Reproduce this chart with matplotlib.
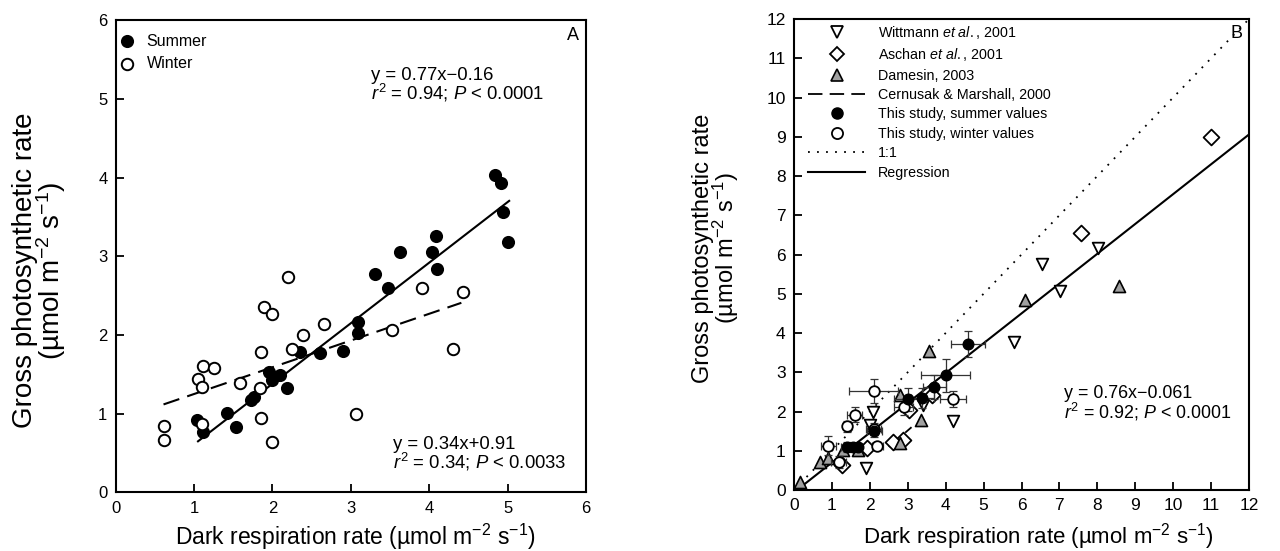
import numpy as np
import matplotlib
matplotlib.use("Agg")
import matplotlib.pyplot as plt
from matplotlib.lines import Line2D

plt.rcParams['font.family'] = ['Liberation Sans', 'DejaVu Sans']
plt.rcParams['mathtext.fontset'] = 'custom'
plt.rcParams['mathtext.rm'] = 'Liberation Sans'
plt.rcParams['mathtext.it'] = 'Liberation Sans:italic'

# PANEL A - datos
summer_x = [4.84, 4.91, 4.94, 5.00, 4.09, 4.04, 4.10, 3.63, 3.31, 3.48, 3.09, 3.09,
            2.35, 2.61, 2.90, 1.95, 2.10, 1.99, 2.18, 1.76, 1.73, 1.42, 1.53, 1.04, 1.12]
summer_y = [4.03, 3.93, 3.57, 3.18, 3.26, 3.06, 2.84, 3.05, 2.77, 2.60, 2.17, 2.02,
            1.79, 1.77, 1.80, 1.53, 1.49, 1.43, 1.32, 1.21, 1.18, 1.01, 0.83, 0.92, 0.77]

winter_x = [0.61, 0.62, 1.05, 1.10, 1.12, 1.26, 1.10, 1.59, 1.84, 1.85, 1.86, 1.89,
            2.00, 1.99, 2.20, 2.25, 2.39, 2.66, 3.07, 3.52, 3.91, 4.30, 4.43]
winter_y = [0.84, 0.67, 1.44, 1.34, 1.60, 1.58, 0.87, 1.39, 1.32, 1.78, 0.94, 2.36,
            2.27, 0.64, 2.74, 1.82, 2.00, 2.14, 0.99, 2.07, 2.60, 1.82, 2.55]

summer_fit = (0.77, -0.16)
summer_range = (1.05, 5.02)
winter_fit = (0.34, 0.91)
winter_range = (0.61, 4.41)

# PANEL B - datos
b_summer_x = [4.60, 4.00, 3.70, 3.38, 3.00, 2.12, 1.40, 1.55, 1.68]
b_summer_y = [3.72, 2.92, 2.62, 2.34, 2.31, 1.50, 1.10, 1.10, 1.10]
b_summer_xerr = [0.45, 0.64, 0.30, 0.30, 0.35, 0.20, 0.15, 0.15, 0.10]
b_summer_yerr = [0.33, 0.42, 0.30, 0.25, 0.30, 0.15, 0.12, 0.10, 0.10]

b_winter_x = [2.10, 1.60, 1.40, 0.90, 1.18, 2.20, 4.19, 2.90, 2.10]
b_winter_y = [2.52, 1.92, 1.62, 1.13, 0.72, 1.12, 2.32, 2.12, 1.55]
b_winter_xerr = [0.65, 0.20, 0.12, 0.20, 0.20, 0.15, 0.35, 0.25, 0.20]
b_winter_yerr = [0.30, 0.20, 0.15, 0.25, 0.15, 0.10, 0.20, 0.20, 0.15]

witt_x = [2.08, 2.00, 1.90, 3.39, 4.20, 5.79, 6.53, 7.02, 8.03]
witt_y = [1.98, 1.66, 0.55, 2.17, 1.77, 3.76, 5.77, 5.08, 6.17]

aschan_x = [11.0, 7.56, 2.88, 2.62, 1.26, 1.92, 3.02, 3.63]
aschan_y = [9.00, 6.56, 1.27, 1.23, 0.64, 1.06, 2.04, 2.42]

dam_x = [8.58, 6.10, 3.55, 3.35, 2.80, 2.80, 1.30, 0.69, 0.90, 0.16, 1.70]
dam_y = [5.20, 4.83, 3.55, 1.78, 2.42, 1.19, 1.02, 0.72, 0.82, 0.21, 1.03]

cernusak_x = [2.50, 3.10]
cernusak_y = [1.10, 1.60]

b_fit = (0.76, -0.061)
b_range = (0.08, 12.0)

# FIGURA
fig = plt.figure(figsize=(12.8, 5.51), dpi=100)
axA = fig.add_axes([0.0904, 0.1065, 0.3674, 0.8565])
axB = fig.add_axes([0.6203, 0.1107, 0.3555, 0.8548])

for ax in (axA, axB):
    for s in ax.spines.values():
        s.set_linewidth(1.5)
    ax.tick_params(direction='in', length=6, width=1.3, labelsize=12, pad=6)

# ---- Panel A
axA.scatter(summer_x, summer_y, s=68, c='black', edgecolors='black', linewidths=1.2,
            zorder=3, label='Summer')
axA.scatter(winter_x, winter_y, s=68, facecolors='white', edgecolors='black', linewidths=1.4,
            zorder=3, label='Winter')

xs = np.array(summer_range)
axA.plot(xs, summer_fit[0] * xs + summer_fit[1], color='black', lw=1.5, zorder=2)
xw = np.array(winter_range)
axA.plot(xw, winter_fit[0] * xw + winter_fit[1], color='black', lw=1.5,
         dashes=(8, 4), zorder=2)

axA.set_xlim(0, 6)
axA.set_ylim(0, 6)
axA.set_xticks(range(7))
axA.set_yticks(range(7))

axA.text(3.26, 5.24, 'y = 0.77x\u22120.16', fontsize=13.3)
axA.text(3.26, 4.99, r'$\mathit{r}^{2}$ = 0.94; $\mathit{P}$ < 0.0001', fontsize=13.3)
axA.text(3.54, 0.55, 'y = 0.34x+0.91', fontsize=13.3)
axA.text(3.54, 0.30, r'$\mathit{r}^{2}$ = 0.34; $\mathit{P}$ < 0.0033', fontsize=13.3)
axA.text(0.985, 0.967, 'A', transform=axA.transAxes, fontsize=13, ha='right', va='center')

axA.legend(loc='upper left', bbox_to_anchor=(0.008, 0.972), frameon=False, fontsize=11.5,
           handlelength=1.0, handletextpad=0.7, borderaxespad=0, borderpad=0,
           labelspacing=0.46, scatterpoints=1)

axA.set_xlabel('Dark respiration rate (µmol m$^{-2}$ s$^{-1}$)', fontsize=16.5)
axA.set_ylabel('Gross photosynthetic rate\n(µmol m$^{-2}$ s$^{-1}$)', fontsize=20,
               linespacing=0.85)
axA.xaxis.set_label_coords(0.509, -0.062)
axA.yaxis.set_label_coords(-0.102, 0.47)

# ---- Panel B
xb = np.array([0, 12])
axB.plot(xb, xb, color='black', lw=1.3, linestyle=(0, (1, 4)), zorder=1)
xr = np.array(b_range)
axB.plot(xr, b_fit[0] * xr + b_fit[1], color='black', lw=1.5, zorder=2)
axB.plot(cernusak_x, cernusak_y, color='black', lw=1.3, dashes=(8, 4), zorder=2)

axB.scatter(witt_x, witt_y, s=70, marker='v', facecolors='white', edgecolors='black',
            linewidths=1.3, zorder=3)
axB.scatter(aschan_x, aschan_y, s=65, marker='D', facecolors='white', edgecolors='black',
            linewidths=1.3, zorder=3)
axB.scatter(dam_x, dam_y, s=75, marker='^', facecolors='#a0a0a0', edgecolors='black',
            linewidths=1.2, zorder=3)

axB.errorbar(b_winter_x, b_winter_y, xerr=b_winter_xerr, yerr=b_winter_yerr, fmt='none',
             ecolor='#333333', elinewidth=0.9, capsize=3, capthick=0.9, zorder=4)
axB.errorbar(b_summer_x, b_summer_y, xerr=b_summer_xerr, yerr=b_summer_yerr, fmt='none',
             ecolor='#333333', elinewidth=0.9, capsize=3, capthick=0.9, zorder=4)
axB.scatter(b_winter_x, b_winter_y, s=58, facecolors='white', edgecolors='black',
            linewidths=1.3, zorder=5)
axB.scatter(b_summer_x, b_summer_y, s=58, c='black', edgecolors='black', zorder=5)

axB.set_xlim(0, 12)
axB.set_ylim(0, 12)
axB.set_xticks(range(13))
axB.set_yticks(range(13))
axB.tick_params(labelsize=12.5)

axB.text(7.11, 2.34, 'y = 0.76x\u22120.061', fontsize=12.9)
axB.text(7.11, 1.83, r'$\mathit{r}^{2}$ = 0.92; $\mathit{P}$ < 0.0001', fontsize=12.9)
axB.text(0.985, 0.97, 'B', transform=axB.transAxes, fontsize=13, ha='right', va='center')

handles = [
    Line2D([], [], linestyle='none', marker='v', markersize=8, mfc='white', mec='black', mew=1.3),
    Line2D([], [], linestyle='none', marker='D', markersize=7, mfc='white', mec='black', mew=1.3),
    Line2D([], [], linestyle='none', marker='^', markersize=8, mfc='#a0a0a0', mec='black', mew=1.2),
    Line2D([], [], color='black', lw=1.3, dashes=(8, 4)),
    Line2D([], [], linestyle='none', marker='o', markersize=8, mfc='black', mec='black'),
    Line2D([], [], linestyle='none', marker='o', markersize=8, mfc='white', mec='black', mew=1.3),
    Line2D([], [], color='black', lw=1.3, linestyle=(0, (1, 4))),
    Line2D([], [], color='black', lw=1.5),
]
labels = [
    r'Wittmann $\mathit{et\ al.}$, 2001',
    r'Aschan $\mathit{et\ al.}$, 2001',
    'Damesin, 2003',
    'Cernusak & Marshall, 2000',
    'This study, summer values',
    'This study, winter values',
    '1:1',
    'Regression',
]
axB.legend(handles, labels, loc='upper left', bbox_to_anchor=(0.031, 0.99), frameon=False,
           fontsize=10.3, handlelength=4.0, handletextpad=0.9, borderaxespad=0, borderpad=0,
           labelspacing=0.38)

axB.set_xlabel('Dark respiration rate (µmol m$^{-2}$ s$^{-1}$)', fontsize=16)
axB.set_ylabel('Gross photosynthetic rate\n(µmol m$^{-2}$ s$^{-1}$)', fontsize=17,
               linespacing=0.85)
axB.xaxis.set_label_coords(0.538, -0.066)
axB.yaxis.set_label_coords(-0.116, 0.514)

fig.savefig('out.png', dpi=100)
